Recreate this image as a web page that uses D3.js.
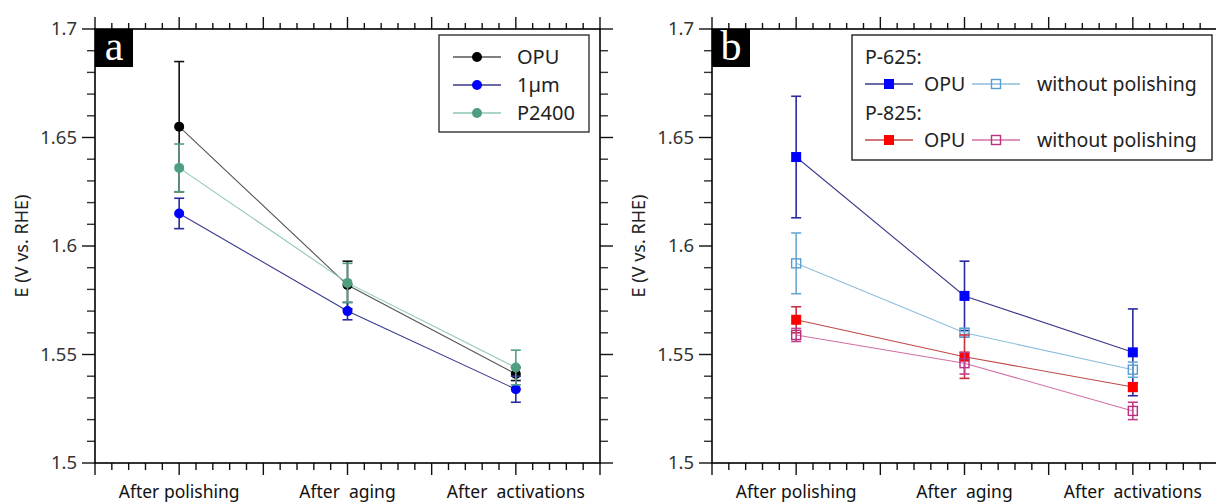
<!DOCTYPE html>
<html><head><meta charset="utf-8">
<script src="https://cdn.jsdelivr.net/npm/d3@7"></script>
<style>
body{margin:0;background:#fff}
svg{display:block}
text{font-family:"Noto Sans","Open Sans",sans-serif}
</style>
</head><body><svg id="c" width="1216" height="502"></svg>
<script>
// ---------- data ----------
const categories = ["After polishing", "After  aging", "After  activations"];
const yTicks = [1.5, 1.55, 1.6, 1.65, 1.7];
const yTickLabels = ["1.5", "1.55", "1.6", "1.65", "1.7"];
const yTitle = "E (V vs. RHE)";

// panel a
const opuA = [1.655, 1.582, 1.541];
const opuAErr = [0.030, 0.011, 0.003];
const umA = [1.615, 1.570, 1.534];
const umAErr = [0.007, 0.004, 0.006];
const p2400A = [1.636, 1.583, 1.544];
const p2400AErr = [0.011, 0.009, 0.008];

// panel b
const p625Opu = [1.641, 1.577, 1.551];
const p625OpuErr = [0.028, 0.016, 0.020];
const p625Wo = [1.592, 1.560, 1.543];
const p625WoErr = [0.014, 0.002, 0.0035];
const p825Opu = [1.566, 1.549, 1.535];
const p825OpuErr = [0.006, 0.010, 0.002];
const p825Wo = [1.559, 1.546, 1.524];
const p825WoErr = [0.003, 0.005, 0.004];

// ---------- drawing ----------
const svg = d3.select("#c");
const plotTop = 29, plotBottom = 463;
const y = d3.scaleLinear().domain([1.5, 1.7]).range([plotBottom, plotTop]);

function panel(left, right, letter, series, legendFn) {
  const g = svg.append("g");
  const xp = d3.scalePoint().domain(categories).range([left, right]).padding(0.5);
  const xl = d3.scaleLinear().domain([0, 6]).range([left, right]);

  const xt = d3.range(0, 30.5, 1).map(d => d / 5);
  xt.forEach(t => {
    const major = Math.abs(t - Math.round(t)) < 1e-9;
    const X = xl(t);
    g.append("line").attr("x1", X).attr("x2", X).attr("y1", plotTop).attr("y2", plotTop - (major ? 12 : 6))
      .attr("stroke", "#111").attr("stroke-width", 1.4);
    g.append("line").attr("x1", X).attr("x2", X).attr("y1", plotBottom).attr("y2", plotBottom + (major ? 12 : 7))
      .attr("stroke", "#111").attr("stroke-width", 1.4);
  });
  const yt = d3.range(150, 170.5, 1).map(d => d / 100);
  yt.forEach(t => {
    const major = yTicks.some(v => Math.abs(v - t) < 1e-9);
    const Y = y(t);
    g.append("line").attr("x1", left).attr("x2", left - (major ? 13 : 8)).attr("y1", Y).attr("y2", Y)
      .attr("stroke", major ? "#111" : "#333").attr("stroke-width", 1.4);
    g.append("line").attr("x1", right).attr("x2", right + (major ? 13 : 8)).attr("y1", Y).attr("y2", Y)
      .attr("stroke", major ? "#111" : "#333").attr("stroke-width", 1.4);
  });
  g.append("rect").attr("x", left).attr("y", plotTop).attr("width", right - left).attr("height", plotBottom - plotTop)
    .attr("fill", "none").attr("stroke", "#000").attr("stroke-width", 1.6);

  yTicks.forEach((t, i) => {
    g.append("text").attr("x", left - 18).attr("y", y(t)).attr("dy", "0.35em")
      .attr("text-anchor", "end").attr("font-size", 18.5).attr("fill", "#333").text(yTickLabels[i]);
  });
  categories.forEach(c => {
    g.append("text").attr("x", xp(c)).attr("y", 498).attr("text-anchor", "middle")
      .attr("font-size", 17.5).attr("fill", "#111").style("white-space", "pre").text(c);
  });
  g.append("text").attr("transform", `translate(${left - 73},${(plotTop + plotBottom) / 2}) rotate(-90)`)
    .attr("text-anchor", "middle").attr("dy", "0.35em").attr("font-size", 18).attr("fill", "#222").text(yTitle);

  series.forEach(s => {
    const pts = categories.map((c, i) => ({ x: xp(c), v: s.values[i], e: s.err[i] }));
    g.append("path").attr("d", d3.line().x(d => d.x).y(d => y(d.v))(pts))
      .attr("fill", "none").attr("stroke", s.line).attr("stroke-width", 1.1);
    pts.forEach(p => {
      g.append("line").attr("x1", p.x).attr("x2", p.x).attr("y1", y(p.v - p.e)).attr("y2", y(p.v + p.e))
        .attr("stroke", s.err_c).attr("stroke-width", 1.6);
      [p.v - p.e, p.v + p.e].forEach(v => {
        g.append("line").attr("x1", p.x - 5).attr("x2", p.x + 5).attr("y1", y(v)).attr("y2", y(v))
          .attr("stroke", s.err_c).attr("stroke-width", 1.6);
      });
    });
    pts.forEach(p => marker(g, s, p.x, y(p.v)));
  });

  g.append("rect").attr("x", left).attr("y", plotTop).attr("width", 38).attr("height", 38).attr("fill", "#000");
  g.append("text").attr("x", left + 19).attr("y", plotTop + 31).attr("text-anchor", "middle")
    .style("font-family", "'Liberation Serif','DejaVu Serif',serif")
    .attr("font-size", 42).attr("fill", "#fff").text(letter);

  legendFn(g);
}

function marker(g, s, X, Y) {
  if (s.shape === "circle") {
    g.append("circle").attr("cx", X).attr("cy", Y).attr("r", 5).attr("fill", s.color);
  } else if (s.shape === "square") {
    g.append("rect").attr("x", X - 5).attr("y", Y - 5).attr("width", 10).attr("height", 10).attr("fill", s.color);
  } else {
    g.append("rect").attr("x", X - 4.5).attr("y", Y - 4.5).attr("width", 9).attr("height", 9)
      .attr("fill", "none").attr("stroke", s.color).attr("stroke-width", 1.4);
  }
}

function legendItem(g, s, x0, yy) {
  g.append("line").attr("x1", x0).attr("x2", x0 + 48).attr("y1", yy).attr("y2", yy)
    .attr("stroke", s.line).attr("stroke-width", 1.5);
  marker(g, s, x0 + 24, yy);
}

const seriesA = [
  { name: "OPU", values: opuA, err: opuAErr, color: "#000000", line: "#555555", err_c: "#111111", shape: "circle" },
  { name: "1\u00b5m", values: umA, err: umAErr, color: "#0000ff", line: "#38388f", err_c: "#2a2a9a", shape: "circle" },
  { name: "P2400", values: p2400A, err: p2400AErr, color: "#4f9e80", line: "#8fc9b3", err_c: "#4f9e80", shape: "circle" }
];
const seriesB = [
  { values: p625Opu, err: p625OpuErr, color: "#0000ff", line: "#3a3a8a", err_c: "#2a2aa0", shape: "square" },
  { values: p625Wo, err: p625WoErr, color: "#5a9ed0", line: "#8cbedd", err_c: "#6aa8d4", shape: "open" },
  { values: p825Opu, err: p825OpuErr, color: "#ff0000", line: "#c04848", err_c: "#c83040", shape: "square" },
  { values: p825Wo, err: p825WoErr, color: "#b8307e", line: "#d070a6", err_c: "#c0408a", shape: "open" }
];

panel(95, 600, "a", seriesA, g => {
  g.append("rect").attr("x", 439).attr("y", 35).attr("width", 150).attr("height", 97)
    .attr("fill", "#fff").attr("stroke", "#333").attr("stroke-width", 1.4);
  seriesA.forEach((s, i) => {
    const yy = 57 + i * 28;
    legendItem(g, s, 453, yy);
    g.append("text").attr("x", 517).attr("y", yy).attr("dy", "0.35em").attr("font-size", 20)
      .attr("fill", "#222").text(s.name);
  });
});

panel(712, 1217, "b", seriesB, g => {
  g.append("rect").attr("x", 852).attr("y", 35).attr("width", 360).attr("height", 125)
    .attr("fill", "#fff").attr("stroke", "#222").attr("stroke-width", 1.4);
  const groups = [["P-625:", seriesB[0], seriesB[1]], ["P-825:", seriesB[2], seriesB[3]]];
  groups.forEach((gr, i) => {
    const y0 = 57 + i * 56;
    g.append("text").attr("x", 865).attr("y", y0).attr("dy", "0.35em").attr("font-size", 19.5).attr("fill", "#222").text(gr[0]);
    const y1 = y0 + 27;
    legendItem(g, gr[1], 865, y1);
    g.append("text").attr("x", 924).attr("y", y1).attr("dy", "0.35em").attr("font-size", 19.5).attr("fill", "#222").text("OPU");
    legendItem(g, gr[2], 972, y1);
    g.append("text").attr("x", 1037).attr("y", y1).attr("dy", "0.35em").attr("font-size", 19.5).attr("fill", "#222").text("without polishing");
  });
});
</script>
</body></html>
